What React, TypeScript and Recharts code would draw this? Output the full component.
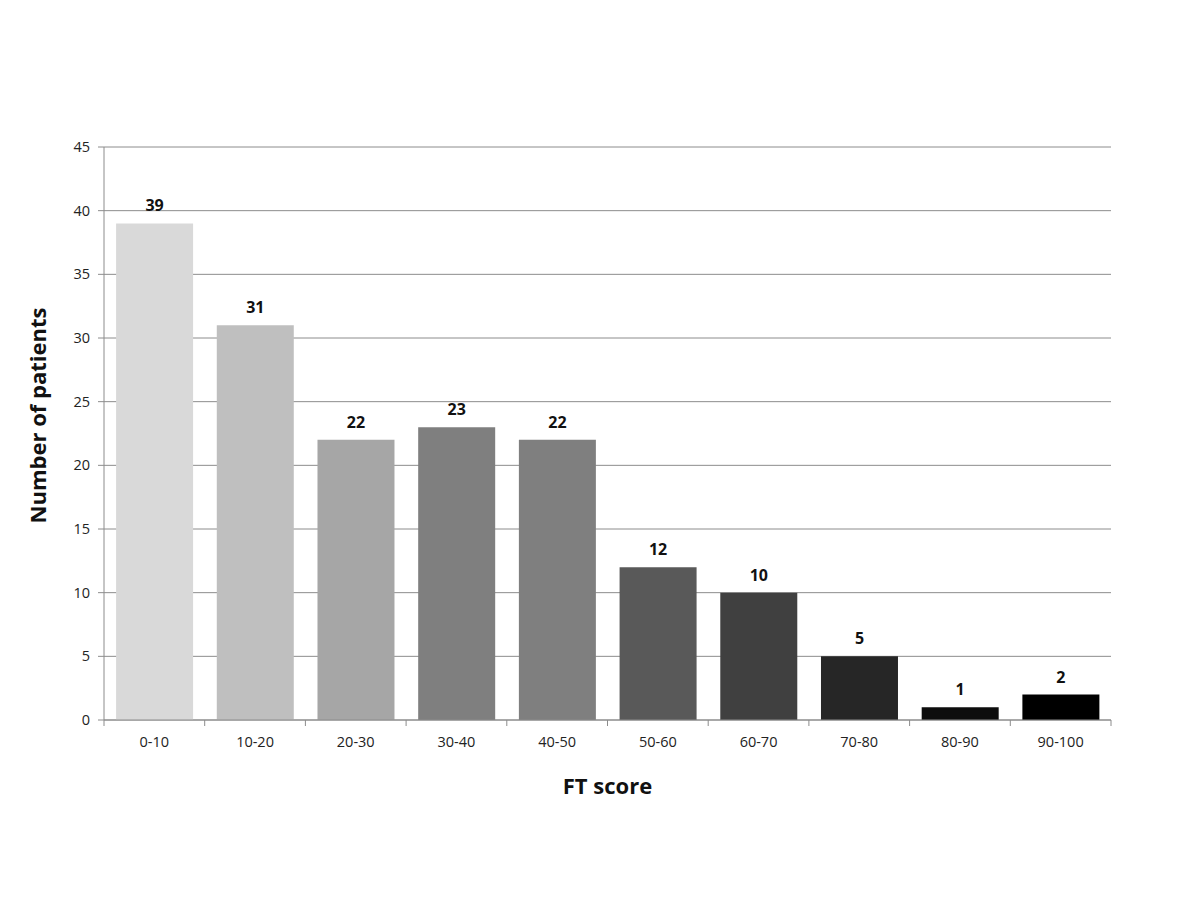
import React from 'react';
import { BarChart, Bar, XAxis, YAxis, CartesianGrid, Cell, LabelList, Label } from 'recharts';

const categories = ['0-10', '10-20', '20-30', '30-40', '40-50', '50-60', '60-70', '70-80', '80-90', '90-100'];
const patients = [39, 31, 22, 23, 22, 12, 10, 5, 1, 2];
const barColors = ['#d9d9d9', '#bfbfbf', '#a6a6a6', '#7f7f7f', '#7f7f7f', '#595959', '#404040', '#262626', '#0d0d0d', '#000000'];
const yTicks = [0, 5, 10, 15, 20, 25, 30, 35, 40, 45];

const data = categories.map((range, i) => ({ range, patients: patients[i] }));

const FONT = "'Open Sans', 'Liberation Sans', sans-serif";
const AXIS_COLOR = '#8c8c8c';

// x tick: label at band centre, tick marks at band boundaries (Excel style)
function CategoryTick(props: any) {
  const { x, y, payload, index, width, visibleTicksCount } = props;
  const band = width / visibleTicksCount;
  const axisY = y - 8;
  return (
    <g>
      <line x1={x - band / 2} x2={x - band / 2} y1={axisY} y2={axisY + 6} stroke={AXIS_COLOR} strokeWidth={1} />
      {index === visibleTicksCount - 1 && (
        <line x1={x + band / 2} x2={x + band / 2} y1={axisY} y2={axisY + 6} stroke={AXIS_COLOR} strokeWidth={1} />
      )}
      <text x={x} y={y + 19} textAnchor="middle" fill="#222" fontSize={14.5} fontFamily={FONT}>
        {payload.value}
      </text>
    </g>
  );
}

export default function App() {
  return (
    <div style={{ position: 'absolute', top: 0, left: 0, width: 1200, height: 900, background: '#fff' }}>
      <BarChart
        width={1200}
        height={900}
        data={data}
        margin={{ top: 147, right: 89, left: 30, bottom: 100 }}
        barCategoryGap="12%"
      >
        <CartesianGrid vertical={false} stroke={AXIS_COLOR} strokeWidth={1} />
        <XAxis
          dataKey="range"
          height={80}
          axisLine={{ stroke: AXIS_COLOR }}
          tickLine={false}
          tick={<CategoryTick />}
          interval={0}
        >
          <Label value="FT score" position="insideBottom" offset={6} fill="#111" fontSize={22} fontWeight="bold" fontFamily={FONT} />
        </XAxis>
        <YAxis
          width={74}
          domain={[0, 45]}
          ticks={yTicks}
          interval={0}
          axisLine={{ stroke: AXIS_COLOR }}
          tickLine={{ stroke: AXIS_COLOR }}
          tickSize={6}
          tickMargin={8}
          tick={{ fill: '#222', fontSize: 14.5, fontFamily: FONT }}
        >
          <Label
            value="Number of patients"
            angle={-90}
            position="insideLeft"
            offset={8}
            dy={-18}
            fill="#111"
            fontSize={22}
            fontWeight="bold"
            fontFamily={FONT}
            style={{ textAnchor: 'middle' }}
          />
        </YAxis>
        <Bar dataKey="patients" isAnimationActive={false}>
          {data.map((d, i) => (
            <Cell key={d.range} fill={barColors[i]} />
          ))}
          <LabelList dataKey="patients" position="top" offset={12} fill="#111" fontSize={16} fontWeight="bold" fontFamily={FONT} />
        </Bar>
      </BarChart>
    </div>
  );
}
